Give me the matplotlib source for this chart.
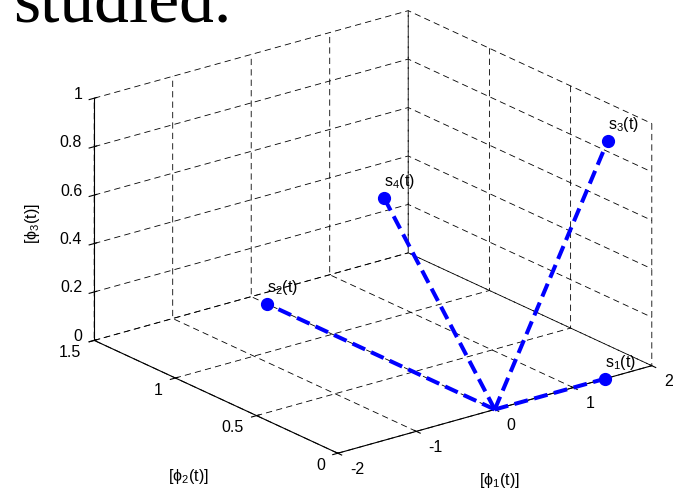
import numpy as np
import matplotlib
matplotlib.use("Agg")
import matplotlib.pyplot as plt
from matplotlib.transforms import offset_copy

# signal points s_i(t) in the (phi1, phi2, phi3) basis
names = ["s_1", "s_2", "s_3", "s_4"]
phi1 = [1.41, 0.0, 1.44, 0.0]
phi2 = [0.0, 1.40, 0.0, 0.68]
phi3 = [0.0, 0.0, 0.98, 0.66]

xticks = [-2, -1, 0, 1, 2]
yticks = [0, 0.5, 1, 1.5]
zticks = [0, 0.2, 0.4, 0.6, 0.8, 1]
xticklabels = ["-2", "-1", "0", "1", "2"]
yticklabels = ["0", "0.5", "1", "1.5"]
zticklabels = ["0", "0.2", "0.4", "0.6", "0.8", "1"]

plt.rcParams.update({
    "font.family": ["Liberation Sans", "DejaVu Sans"],
    "font.size": 11.5,
    "mathtext.fontset": "custom",
    "mathtext.rm": "Liberation Sans",
    "mathtext.it": "Liberation Sans:italic",
    "axes.unicode_minus": False,
    "lines.scale_dashes": False,
})

W, H = 680, 492
fig = plt.figure(figsize=(W / 100, H / 100), dpi=100)

# slide text cut off above the figure
fig.text(13 / W, 1 - 22 / H, "studied.", family="Liberation Serif", fontsize=50,
         ha="left", va="baseline")

side = 400
ax = fig.add_axes([0.2, 0.1, side / W, side / H], projection="3d", proj_type="ortho")
ax.set_xlim(-2, 2)
ax.set_ylim(0, 1.5)
ax.set_zlim(0, 1)
ax.set_box_aspect((1, 1, 0.653))
ax.view_init(elev=21.06, azim=-127.8)

for axis in (ax.xaxis, ax.yaxis, ax.zaxis):
    axis.set_pane_color((1, 1, 1, 0))
    axis.pane.set_edgecolor("none")
    axis._axinfo["grid"].update(color="k", linewidth=0.6, linestyle=(0, (4.5, 3)))
    axis.line.set_linewidth(0.8)
    axis.line.set_color("k")
    axis.label.set_visible(False)
    axis.offsetText.set_visible(False)

# ticks from the axes, labels placed MATLAB-style next to them
ax.set_xticks(xticks)
ax.set_yticks(yticks)
ax.set_zticks(zticks)
for axis in (ax.xaxis, ax.yaxis, ax.zaxis):
    axis.set_tick_params(label1On=False, label2On=False)

xoff = offset_copy(ax.transData, fig=fig, x=12, y=-16, units="dots")
yoff = offset_copy(ax.transData, fig=fig, x=-13, y=-12, units="dots")
zoff = offset_copy(ax.transData, fig=fig, x=-12, y=4, units="dots")
for v, lab in zip(xticks, xticklabels):
    ax.text(v, 0, 0, lab, ha="left", va="center", transform=xoff)
for v, lab in zip(yticks, yticklabels):
    ax.text(-2, v, 0, lab, ha="right", va="center", transform=yoff)
for v, lab in zip(zticks, zticklabels):
    ax.text(-2, 1.5, v, lab, ha="right", va="center", transform=zoff)

for xs, ys, zs, nm in zip(phi1, phi2, phi3, names):
    ax.plot([0, xs], [0, ys], [0, zs], color="blue", lw=2.9, linestyle=(0, (10, 4.7)))
    ax.plot([xs], [ys], [zs], "o", color="blue", markersize=8.5)
    ax.text(xs, ys, zs + 0.05, r"$\mathrm{%s}$(t)" % nm, ha="left", va="baseline")

# axis titles, placed as in the source figure
fig.text(499 / W, 1 - 481 / H, r"[$\mathrm{\phi_1}$(t)]", ha="center", va="center")
fig.text(188 / W, 1 - 476 / H, r"[$\mathrm{\phi_2}$(t)]", ha="center", va="center")
fig.text(32 / W, 1 - 224 / H, r"[$\mathrm{\phi_3}$(t)]", ha="center", va="center",
         rotation=90)

# fit the projected box onto its place in the picture
fig.canvas.draw()
M = ax.get_proj()


def to_px(x, y, z):
    v = M @ np.array([x, y, z, 1.0])
    return ax.transData.transform((v[0] / v[3], v[1] / v[3]))


corners = [(-2, 1.5, 0), (2, 0, 0), (2, 1.5, 1), (-2, 0, 0)]
targets = np.array([(93, H - 340), (652, H - 365), (410, H - 12), (337, H - 453)], float)
meas = np.array([to_px(*c) for c in corners])
mc, tc = meas - meas.mean(0), targets - targets.mean(0)
k = (mc * tc).sum() / (mc * mc).sum()
c = targets.mean(0) - k * meas.mean(0)
bb = ax.get_position(original=True)
x0, y0, w, h = bb.x0 * W, bb.y0 * H, bb.width * W, bb.height * H
ax.set_position([(k * x0 + c[0]) / W, (k * y0 + c[1]) / H, k * w / W, k * h / H])

fig.savefig("out.png", dpi=100)
